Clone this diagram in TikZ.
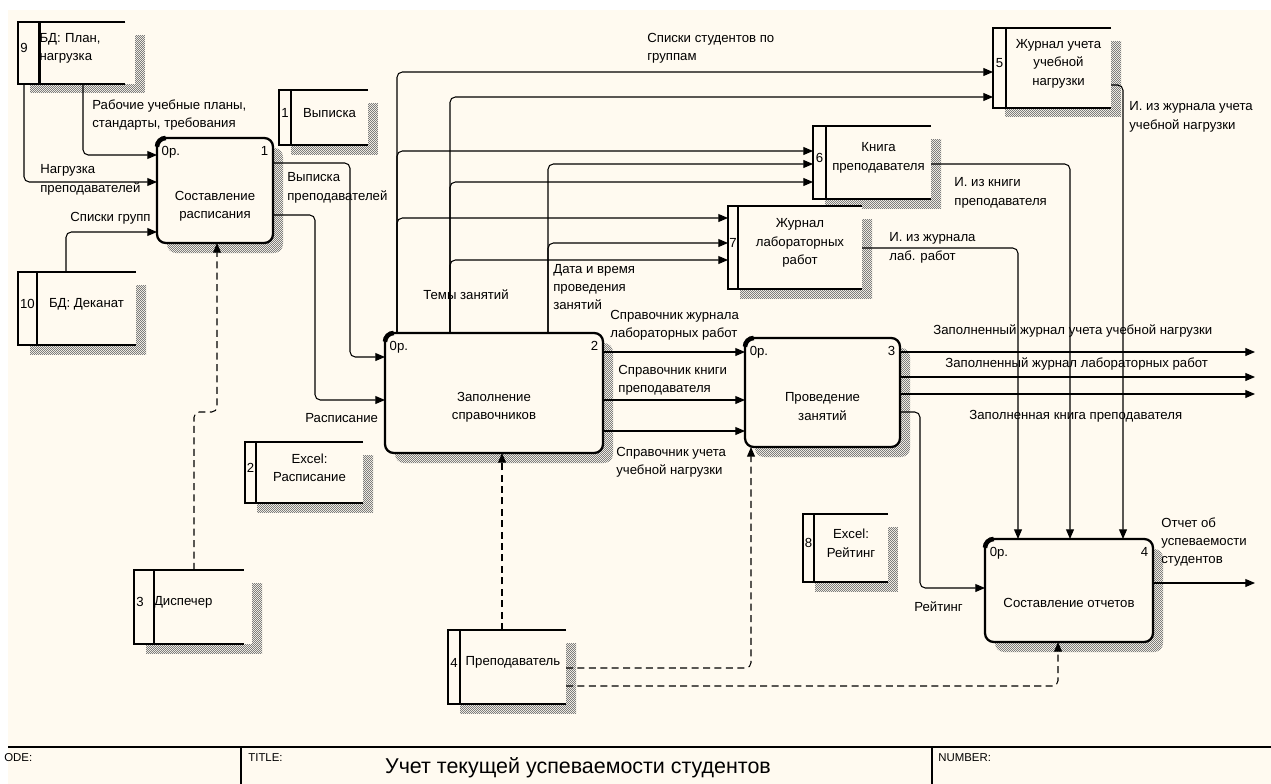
\documentclass[tikz,border=0pt]{standalone}
\usepackage{fontspec}
\setmainfont{Liberation Sans}
\usetikzlibrary{arrows.meta,positioning,fit,patterns}
\definecolor{idefpaper}{RGB}{255,250,240}
\definecolor{hatchgray}{RGB}{125,125,125}

\pgfdeclarepatternformonly{finecheck}{\pgfqpoint{0pt}{0pt}}{\pgfqpoint{1.134pt}{1.134pt}}{\pgfqpoint{1.134pt}{1.134pt}}{%
  \pgfpathrectangle{\pgfqpoint{0pt}{0pt}}{\pgfqpoint{0.567pt}{0.567pt}}%
  \pgfpathrectangle{\pgfqpoint{0.567pt}{0.567pt}}{\pgfqpoint{0.567pt}{0.567pt}}%
  \pgfusepath{fill}}

\tikzset{
  lbl/.style={font=\fontsize{7.5}{10.5}\selectfont},
  procbox/.style={draw, line width=1.3pt, rounded corners=5pt, fill=idefpaper, inner sep=0pt, outer sep=0pt},
  procshade/.style={pattern=finecheck, pattern color=hatchgray, rounded corners=5pt},
  proccorner/.style={line width=2.6pt},
  proctext/.style={lbl, align=center, inner sep=0pt},
  cornertag/.style={lbl, inner xsep=2.5pt, inner ysep=4.5pt},
  storebody/.style={lbl, align=center, inner sep=0pt, outer sep=0pt},
  storenum/.style={lbl, inner sep=0pt, outer sep=0pt},
  storeline/.style={line width=1.4pt},
  storeshade/.style={pattern=finecheck, pattern color=hatchgray},
  flow/.style={draw, line width=0.6pt, rounded corners=3pt, -{Triangle[length=5.5pt,width=4.5pt]}},
  ctrlflow/.style={flow, dash pattern=on 4pt off 2.5pt},
  flowlabel/.style={lbl, align=left, anchor=west, inner sep=0pt},
  tblline/.style={line width=0.9pt},
  tbltag/.style={font=\fontsize{6.5}{8}\selectfont, anchor=north west, inner sep=0pt},
  titletext/.style={font=\fontsize{12.2}{15}\selectfont, inner sep=0pt}
}

% [options]{name}{left}{top}{divider}{right}{bottom}{number}{text}
\newcommand{\datastore}[9][]{%
  \fill[storeshade] (#3+12,#4+13) rectangle (#6+10,#7+9);
  \fill[idefpaper] (#3,#4) rectangle (#6,#7);
  \node[storebody, fit={(#5,#4) (#6,#7)}, #1] (#2) {#9};
  \node[storenum, fit={(#3,#4) (#5,#7)}] (#2n) {#8};
  \draw[storeline] (#2.north east) -- (#2n.north west) -- (#2n.south west) -- (#2.south east);
  \draw[storeline] (#2.north west) -- (#2.south west);
}

\begin{document}
\begin{tikzpicture}[x=0.02cm,y=-0.02cm]
\useasboundingbox (0,0) rectangle (1271,784);
\fill[white] (0,0) rectangle (1271,784);
\fill[idefpaper] (8,10) rectangle (1271,784);

% stores
\datastore[align=left,text width=1.72cm]{s9}{18}{22}{30}{135}{84}{9}{БД: План,\\нагрузка}
\datastore{s1}{279}{90}{291}{368}{145}{1}{Выписка}
\datastore{s10}{18}{272}{37}{136}{345}{10}{БД: Деканат}
\datastore{s2}{245}{442}{256}{363}{503}{2}{Excel:\\Расписание}
\datastore[align=left,text width=1.8cm]{s3}{134}{570}{146}{252}{644}{3}{Диспечер}
\datastore{s4}{448}{630}{460}{566}{704}{4}{Преподаватель}
\datastore{s5}{993}{28}{1006}{1111}{108}{5}{Журнал учета\\учебной\\нагрузки}
\datastore{s6}{813}{126}{826}{931}{199}{6}{Книга\\преподавателя}
\datastore{s7}{728}{206}{738}{862}{289}{7}{Журнал\\лабораторных\\работ}
\datastore{s8}{803}{514}{814}{888}{582}{8}{Excel:\\Рейтинг}

% processes
\fill[procshade] (167,148) rectangle (283,253);
\node[procbox, fit={(157,138) (273,243)}] (p1) {};
\draw[proccorner] ([yshift=-5pt]p1.north west) arc[start angle=180, end angle=90, radius=5pt];
\node[proctext] (p1t) at ([yshift=-9pt]p1.center) {Составление\\расписания};
\node[cornertag, anchor=north west] (p1a) at (p1.north west) {0р.};
\node[cornertag, anchor=north east] (p1b) at (p1.north east) {1};

\fill[procshade] (395,343) rectangle (613,463);
\node[procbox, fit={(385,333) (603,453)}] (p2) {};
\draw[proccorner] ([yshift=-5pt]p2.north west) arc[start angle=180, end angle=90, radius=5pt];
\node[proctext] (p2t) at ([yshift=-8pt]p2.center) {Заполнение\\справочников};
\node[cornertag, anchor=north west] (p2a) at (p2.north west) {0р.};
\node[cornertag, anchor=north east] (p2b) at (p2.north east) {2};

\fill[procshade] (755,348) rectangle (910,457);
\node[procbox, fit={(745,338) (900,447)}] (p3) {};
\draw[proccorner] ([yshift=-5pt]p3.north west) arc[start angle=180, end angle=90, radius=5pt];
\node[proctext] (p3t) at ([yshift=-8pt]p3.center) {Проведение\\занятий};
\node[cornertag, anchor=north west] (p3a) at (p3.north west) {0р.};
\node[cornertag, anchor=north east] (p3b) at (p3.north east) {3};

\fill[procshade] (995,549) rectangle (1163,652);
\node[procbox, fit={(985,539) (1153,642)}] (p4) {};
\draw[proccorner] ([yshift=-5pt]p4.north west) arc[start angle=180, end angle=90, radius=5pt];
\node[proctext] (p4t) at ([yshift=-7pt]p4.center) {Составление отчетов};
\node[cornertag, anchor=north west] (p4a) at (p4.north west) {0р.};
\node[cornertag, anchor=north east] (p4b) at (p4.north east) {4};

\coordinate (out1) at (1255,352);
\coordinate (out2) at (1255,377);
\coordinate (out3) at (1255,394);
\coordinate (out4) at (1255,583);

% flows into p1
\draw[flow] (s9.south -| 83,0) |- (p1.west |- 0,155);
\draw[flow] (s9.south -| 24,0) |- (p1.west |- 0,182);
\draw[flow] (s10.north -| 66,0) |- (p1.west |- 0,232);
\draw[ctrlflow] (s3.north -| 194,0) -- (194,412) -- (217,412) -- (p1.south -| 217,0);

% p1 to p2
\draw[flow] (p1.east |- 0,163) -- (350,163) |- (p2.west |- 0,357);
\draw[flow] (p1.east |- 0,215) -- (315,215) |- (p2.west |- 0,400);

% p2 to stores
\draw[flow] (p2.north -| 397,0) |- (s5n.west |- 0,72);
\draw[flow] (p2.north -| 397,0) |- (s6n.west |- 0,151);
\draw[flow] (p2.north -| 397,0) |- (s7n.west |- 0,218);
\draw[flow] (p2.north -| 450,0) |- (s5n.west |- 0,97);
\draw[flow] (p2.north -| 450,0) |- (s6n.west |- 0,182);
\draw[flow] (p2.north -| 450,0) |- (s7n.west |- 0,260);
\draw[flow] (p2.north -| 548,0) |- (s6n.west |- 0,164);
\draw[flow] (p2.north -| 548,0) |- (s7n.west |- 0,243);

% p2 to p3
\draw[flow] (p2.east |- 0,352) -- (p3.west |- 0,352);
\draw[flow] (p2.east |- 0,400) -- (p3.west |- 0,400);
\draw[flow] (p2.east |- 0,431) -- (p3.west |- 0,431);

% p3 out
\draw[flow] (p3.east |- 0,352) -- (out1);
\draw[flow] (p3.east |- 0,377) -- (out2);
\draw[flow] (p3.east |- 0,394) -- (out3);
\draw[flow] (p3.east |- 0,412) -- (920,412) |- (p4.west |- 0,588);

% stores to p4
\draw[flow] (s7.east |- 0,248) -| (p4.north -| 1018,0);
\draw[flow] (s6.east |- 0,164) -| (p4.north -| 1070,0);
\draw[flow] (s5.east |- 0,85) -| (p4.north -| 1123,0);
\draw[flow] (p4.east |- 0,583) -- (out4);

% teacher
\draw[ctrlflow] (s4.north -| 502,0) -- (p2.south -| 502,0);
\draw[ctrlflow] (s4.east |- 0,668) -| (p3.south -| 751,0);
\draw[ctrlflow] (s4.east |- 0,686) -| (p4.south -| 1058,0);

% labels
\node[flowlabel] (lplans) at (92,115) {Рабочие учебные планы,\\стандарты, требования};
\node[flowlabel] (lload) at (40,180) {Нагрузка\\преподавателей};
\node[flowlabel] (lgroups) at (70,218) {Списки групп};
\node[flowlabel] (lextract) at (287,188) {Выписка\\преподавателей};
\node[flowlabel] (lsched) at (305,418) {Расписание};
\node[flowlabel] (lstudents) at (647,48) {Списки студентов по\\группам};
\node[flowlabel] (ltopics) at (423,295) {Темы занятий};
\node[flowlabel] (ldate) at (553,287) {Дата и время\\проведения\\занятий};
\node[flowlabel] (lreflab) at (610,325) {Справочник журнала\\лабораторных работ};
\node[flowlabel] (lrefbook) at (618,380) {Справочник книги\\преподавателя};
\node[flowlabel] (lrefload) at (616,462) {Справочник учета\\учебной нагрузки};
\node[flowlabel] (lfillload) at (933,331) {Заполненный журнал учета учебной нагрузки};
\node[flowlabel] (lfilllab) at (945,364) {Заполненный журнал лабораторных работ};
\node[flowlabel] (lfillbook) at (969,416) {Заполненная книга преподавателя};
\node[flowlabel] (linfoload) at (1129,117) {И. из журнала учета\\учебной нагрузки};
\node[flowlabel] (linfobook) at (954,193) {И. из книги\\преподавателя};
\node[flowlabel] (linfolab) at (889,248) {И. из журнала\\лаб. работ};
\node[flowlabel] (lrating) at (914,607) {Рейтинг};
\node[flowlabel] (lreport) at (1161,542) {Отчет об\\успеваемости\\студентов};

% title block
\draw[tblline] (8,747) -- (1271,747);
\draw[tblline] (241,747) -- (241,784);
\draw[tblline] (932,747) -- (932,784);
\node[tbltag] (tnode) at (4,753) {ODE:};
\node[tbltag] (ttitle) at (248,753) {TITLE:};
\node[tbltag] (tnumber) at (938,753) {NUMBER:};
\node[titletext] (tname) at (578,768) {Учет текущей успеваемости студентов};
\end{tikzpicture}
\end{document}
